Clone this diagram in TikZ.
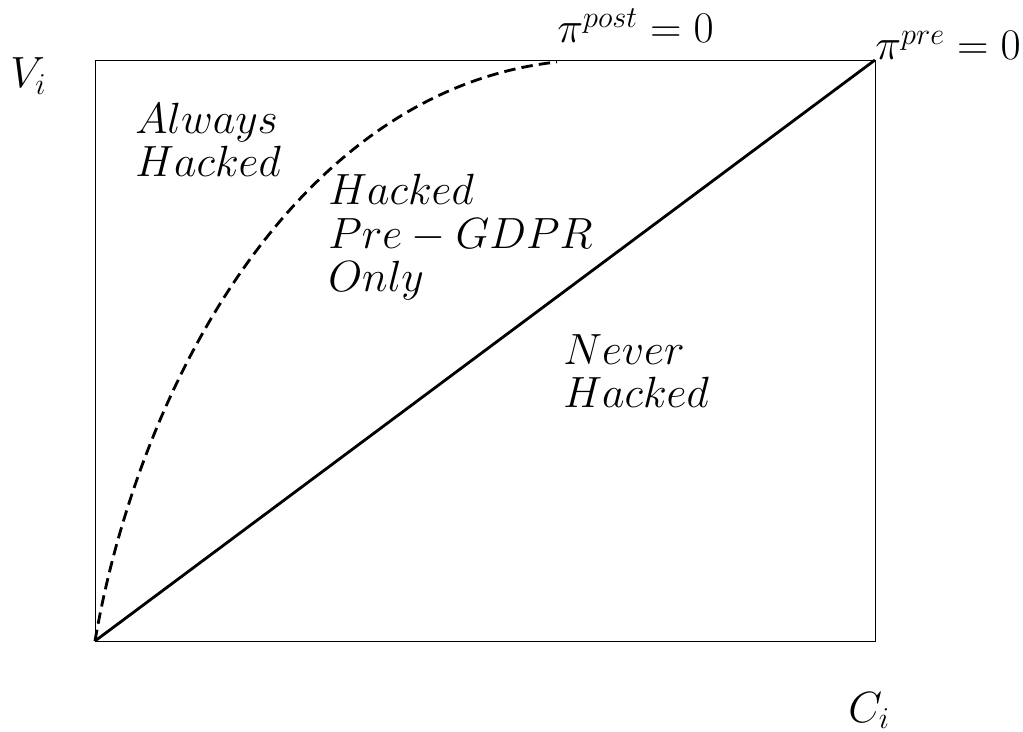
\documentclass[tikz,border=0pt]{standalone}
\usepackage{amssymb,amsmath}
\usetikzlibrary{calc}
\tikzset{region label/.style={anchor=base west,inner sep=0pt,align=left,
    font=\fontsize{24}{25}\selectfont}}
\tikzset{axis label/.style={anchor=base west,inner sep=0pt,font=\fontsize{24}{30}\selectfont}}

\begin{document}
\begin{tikzpicture}[x=0.02cm,y=-0.02cm]
\useasboundingbox (0,0) rectangle (1023,732);
\draw[black, line width=0.5pt] (95,60) rectangle (875,641);

\coordinate (origin) at (95,641);
\coordinate (postend) at (557,62);
\coordinate (precorner) at (875,60);

\node[axis label] (vi) at (10,88) {$V_i$};
\node[axis label] (ci) at (848,722) {$C_i$};
\node[axis label] (post) at (557,43) {$\pi^{post} = 0$};
\node[axis label] (pre) at (875,60) {$\pi^{pre} = 0$};

% base anchor sits on the last line
\node[region label] (always) at (135,177) {$Always$\\$Hacked$};
\node[region label] (preonly) at (328,292) {$Hacked$\\$Pre-GDPR$\\$Only$};
\node[region label] (never) at (563,408) {$Never$\\$Hacked$};

\draw[line width=1.6pt] (origin) -- (precorner);
\draw[line width=1.6pt,dash pattern=on 6.5pt off 3.5pt] (origin) .. controls (140,380) and (300,90) .. (postend);

\end{tikzpicture}
\end{document}
